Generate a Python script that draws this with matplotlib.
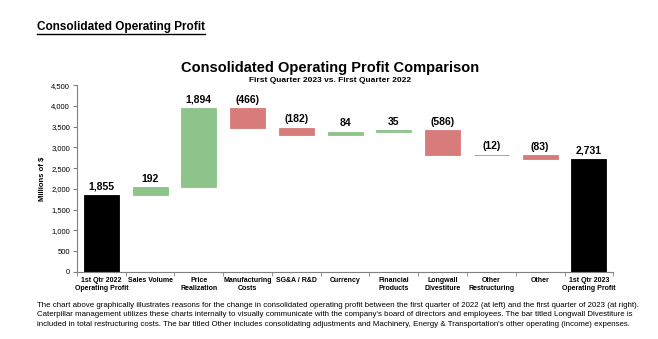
import matplotlib
matplotlib.use("Agg")
import matplotlib.pyplot as plt
from matplotlib.lines import Line2D
import numpy as np

plt.rcParams['font.family'] = ['Liberation Sans', 'DejaVu Sans']

# data
categories = ['1st Qtr 2022\nOperating Profit', 'Sales Volume', 'Price\nRealization',
              'Manufacturing\nCosts', 'SG&A / R&D', 'Currency', 'Financial\nProducts',
              'Longwall\nDivestiture', 'Other\nRestructuring', 'Other',
              '1st Qtr 2023\nOperating Profit']
start_value = 1855
changes = [192, 1894, -466, -182, 84, 35, -586, -12, -83]
end_value = 2731
yticks = np.arange(0, 4501, 500)

green = '#8cc489'
red = '#d87b7b'

fig = plt.figure(figsize=(6.58, 3.39), dpi=100)
ax = fig.add_axes([0.117, 0.198, 0.815, 0.551])

x = np.arange(len(categories))
w = 0.72

# waterfall
bottoms = []
heights = []
colors = []
labels = []
bottoms.append(0); heights.append(start_value); colors.append('black'); labels.append(f'{start_value:,}')
run = start_value
for c in changes:
    if c >= 0:
        bottoms.append(run); heights.append(c); colors.append(green); labels.append(f'{c:,}')
    else:
        bottoms.append(run + c); heights.append(-c); colors.append(red); labels.append(f'({-c:,})')
    run += c
bottoms.append(0); heights.append(end_value); colors.append('black'); labels.append(f'{end_value:,}')

ax.bar(x, heights, w, bottom=bottoms, color=colors, edgecolor=colors, linewidth=0.6)
for xi, b, h, lab in zip(x, bottoms, heights, labels):
    ax.text(xi, b + h + 80, lab, ha='center', va='bottom', fontsize=7.5, fontweight='bold')

ax.set_xlim(-0.5, len(categories) - 0.5)
ax.set_ylim(0, 4500)
ax.set_yticks(yticks)
ax.set_yticklabels([f'{v:,}' for v in yticks], fontsize=5.5)
ax.set_xticks(x)
ax.set_xticklabels(categories, fontsize=5.0, fontweight='bold')
ax.tick_params(axis='x', length=0, pad=4)
ax.set_xticks(list(np.arange(-0.5, len(categories) + 0.5, 1)), minor=True)
ax.tick_params(axis='x', which='minor', length=3, color='#808080')
ax.tick_params(axis='y', length=3, color='#808080', pad=2)
for s in ['top', 'right']:
    ax.spines[s].set_visible(False)
for s in ['left', 'bottom']:
    ax.spines[s].set_color('#808080')
    ax.spines[s].set_linewidth(0.8)
ax.set_ylabel('Millions of $', fontsize=5.5, fontweight='bold', labelpad=4)

fig.text(0.502, 0.80, 'Consolidated Operating Profit Comparison', ha='center', va='center',
         fontsize=10.5, fontweight='bold')
fig.text(0.502, 0.763, 'First Quarter 2023 vs. First Quarter 2022', ha='center', va='center',
         fontsize=6.0, fontweight='bold')

hdr = fig.text(0.056, 0.92, 'Consolidated Operating Profit', ha='left', va='center',
               fontsize=8.5, fontweight='bold')

foot = ("The chart above graphically illustrates reasons for the change in consolidated operating profit between the first quarter of 2022 (at left) and the first quarter of 2023 (at right).\n"
        "Caterpillar management utilizes these charts internally to visually communicate with the company's board of directors and employees. The bar titled Longwall Divestiture is\n"
        "included in total restructuring costs. The bar titled Other includes consolidating adjustments and Machinery, Energy & Transportation's other operating (income) expenses.")
fig.text(0.056, 0.071, foot, ha='left', va='center', fontsize=5.65, linespacing=1.55)

# underline header
fig.canvas.draw()
bb = hdr.get_window_extent().transformed(fig.transFigure.inverted())
fig.add_artist(Line2D([bb.x0, bb.x1], [bb.y0 - 0.002, bb.y0 - 0.002], color='black', lw=1.0,
                      transform=fig.transFigure))

fig.savefig('out.png', dpi=100)
